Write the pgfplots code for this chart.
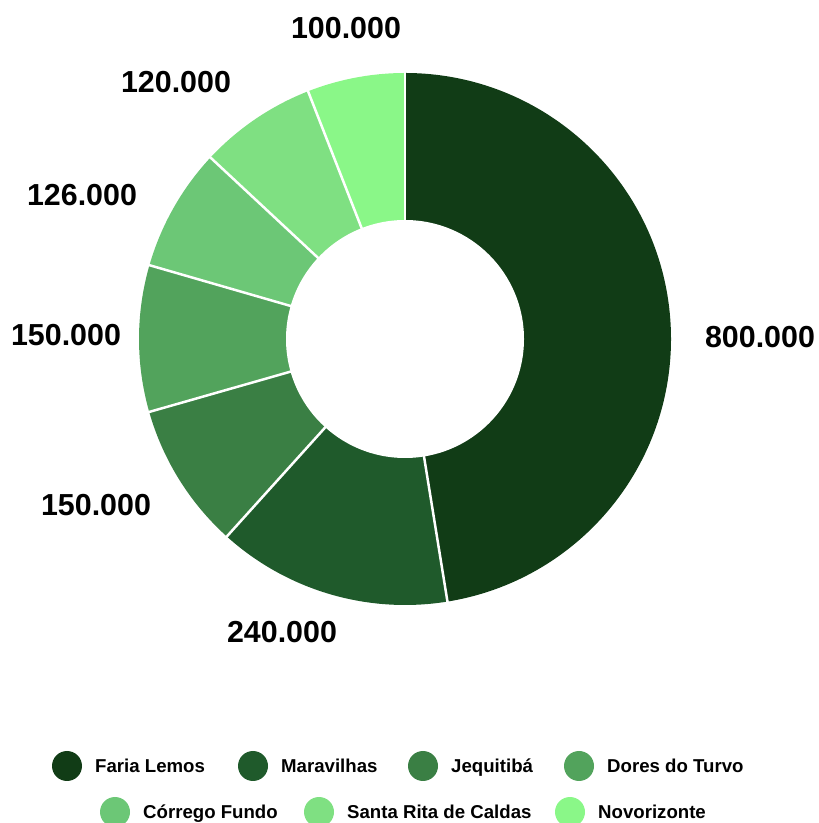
\documentclass[border=0pt]{standalone}
\usepackage{pgfplots}
\pgfplotsset{compat=1.18}
\usepackage{fontspec}
\setmainfont{Liberation Sans}
\definecolor{c0}{HTML}{113C16}
\definecolor{c1}{HTML}{1F5A2B}
\definecolor{c2}{HTML}{3A7F44}
\definecolor{c3}{HTML}{52A35C}
\definecolor{c4}{HTML}{6CC776}
\definecolor{c5}{HTML}{7FE082}
\definecolor{c6}{HTML}{8AF788}
% values: Faria Lemos, Maravilhas, Jequitiba, Dores do Turvo, Corrego Fundo, Santa Rita de Caldas, Novorizonte
\def\vals{800,240,150,150,126,120,100}
\gdef\total{0}
\foreach \v in \vals {\pgfmathparse{\total+\v}\xdef\total{\pgfmathresult}}
\gdef\cum{90}
\foreach \v [count=\i from 0] in \vals {%
  \pgfmathparse{\cum-\v/\total*360}\let\e\pgfmathresult
  \expandafter\xdef\csname sa\i\endcsname{\cum}%
  \expandafter\xdef\csname ea\i\endcsname{\e}%
  \xdef\cum{\e}}
\begin{document}
\begin{tikzpicture}
\path[use as bounding box] (0,0) rectangle (819bp,823bp);
\begin{axis}[at={(0,0)}, anchor=south west, scale only axis,
  width=819bp, height=823bp, xmin=0, xmax=819, ymin=0, ymax=823,
  hide axis, clip=false]
\pgfplotsinvokeforeach{0,...,6}{
  \fill[c#1] (axis cs:405,484) -- ++(\csname sa#1\endcsname:266bp)
    arc[start angle=\csname sa#1\endcsname, end angle=\csname ea#1\endcsname, radius=266bp] -- cycle;
}
\pgfplotsinvokeforeach{0,...,6}{
  \draw[white, line width=2.5bp] (axis cs:405,484) -- ++(\csname sa#1\endcsname:267bp);
}
\fill[white] (axis cs:405,484) circle[radius=119bp];
\tikzset{lbl/.style={font=\fontsize{30.5}{36}\selectfont\bfseries, inner sep=0pt}}
\node[lbl] at (axis cs:760,486) {800.000};
\node[lbl] at (axis cs:282,191) {240.000};
\node[lbl] at (axis cs:96,318) {150.000};
\node[lbl] at (axis cs:66,488) {150.000};
\node[lbl] at (axis cs:82,628) {126.000};
\node[lbl] at (axis cs:176,741) {120.000};
\node[lbl] at (axis cs:346,795) {100.000};
\tikzset{leg/.style={font=\fontsize{18.7}{22}\selectfont\bfseries, inner sep=0pt, anchor=base west}}
\fill[c0] (axis cs:67,57) circle[radius=15bp];
\node[leg] at (axis cs:95,50.4) {Faria Lemos};
\fill[c1] (axis cs:253,57) circle[radius=15bp];
\node[leg] at (axis cs:281,50.4) {Maravilhas};
\fill[c2] (axis cs:423,57) circle[radius=15bp];
\node[leg] at (axis cs:451,50.4) {Jequitibá};
\fill[c3] (axis cs:579,57) circle[radius=15bp];
\node[leg] at (axis cs:607,50.4) {Dores do Turvo};
\fill[c4] (axis cs:115,11) circle[radius=15bp];
\node[leg] at (axis cs:143,4.4) {Córrego Fundo};
\fill[c5] (axis cs:319,11) circle[radius=15bp];
\node[leg] at (axis cs:347,4.4) {Santa Rita de Caldas};
\fill[c6] (axis cs:570,11) circle[radius=15bp];
\node[leg] at (axis cs:598,4.4) {Novorizonte};
\end{axis}
\end{tikzpicture}
\end{document}
